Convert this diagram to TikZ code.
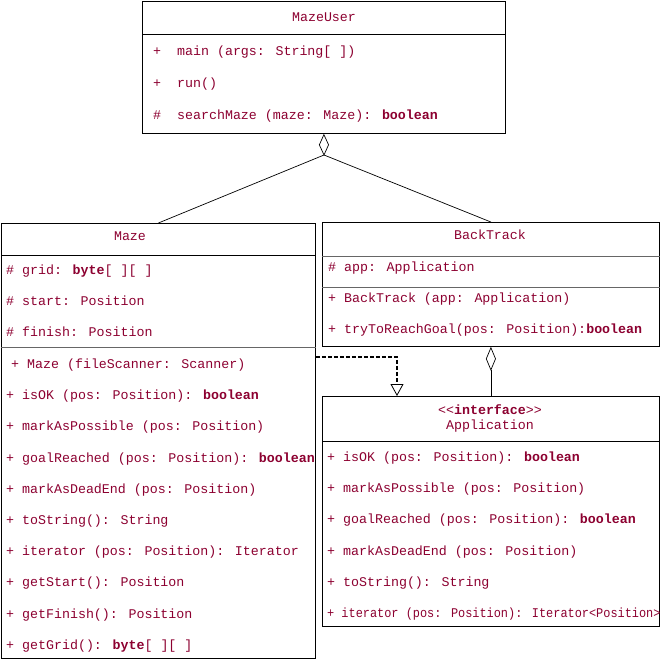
\documentclass[tikz,border=0pt]{standalone}
\usepackage{fontspec}
\newfontfamily\umlfont{Liberation Mono}
\usetikzlibrary{positioning, arrows.meta}
\definecolor{umlred}{RGB}{140,0,48}

\begin{document}
\begin{tikzpicture}[x=1pt, y=-1pt,
    umlbox/.style={draw, line width=0.8pt, anchor=north west, inner sep=0pt},
    row/.style={anchor=west, inner sep=0pt, text height=11pt, text depth=2pt,
                text=umlred, font=\umlfont\fontsize{13.3}{15}\selectfont},
    title/.style={row, anchor=center},
    sep/.style={line width=0.8pt},
    softsep/.style={line width=1pt, black!60}]
    \useasboundingbox (0,0) rectangle (660,659);

    % class boxes
    \node[umlbox, minimum width=363pt, minimum height=132pt] (mazeuser) at (142,1) {};
    \node[umlbox, minimum width=314pt, minimum height=435pt] (maze) at (1,223) {};
    \node[umlbox, minimum width=337pt, minimum height=124pt] (backtrack) at (322,222) {};
    \node[umlbox, minimum width=337pt, minimum height=230pt] (app) at (322,396) {};

    % compartments
    \draw[sep] (mazeuser.west |- 0,34) -- (mazeuser.east |- 0,34);
    \draw[sep] (maze.west |- 0,255) -- (maze.east |- 0,255);
    \draw[softsep] (maze.west |- 0,347) -- (maze.east |- 0,347);
    \draw[softsep] (backtrack.west |- 0,256) -- (backtrack.east |- 0,256);
    \draw[softsep] (backtrack.west |- 0,287) -- (backtrack.east |- 0,287);
    \draw[sep] (app.west |- 0,441) -- (app.east |- 0,441);

    % MazeUser
    \node[title] (mu-name) at (324,17) {MazeUser};
    \foreach \txt [count=\i] in {{+\ \ main (args: String[ ])}, {+\ \ run()},
        {\#\ \ searchMaze (maze: Maze): \textbf{boolean}}}
      \node[row] (mu-\i) at (153,{51+32*(\i-1)}) {\txt};

    % Maze
    \node[title] (mz-name) at (130,236) {Maze};
    \foreach \txt [count=\i] in {{\# grid: \textbf{byte}[ ][ ]}, {\# start: Position},
        {\# finish: Position}}
      \node[row] (mza-\i) at (6,{270+31*(\i-1)}) {\txt};
    \node[row] (mzm-0) at (11,364) {+ Maze (fileScanner: Scanner)};
    \foreach \txt [count=\i] in {{+ isOK (pos: Position): \textbf{boolean}},
        {+ markAsPossible (pos: Position)},
        {+ goalReached (pos: Position): \textbf{boolean}},
        {+ markAsDeadEnd (pos: Position)}, {+ toString(): String},
        {+ iterator (pos: Position): Iterator}, {+ getStart(): Position},
        {+ getFinish(): Position}, {+ getGrid(): \textbf{byte}[ ][ ]}}
      \node[row] (mzm-\i) at (6,{364+31.2*\i}) {\txt};

    % BackTrack
    \node[title] (bt-name) at (490,235) {BackTrack};
    \node[row] (bta-1) at (328,267) {\# app: Application};
    \node[row] (btm-1) at (328,298) {+ BackTrack (app: Application)};
    \node[row] (btm-2) at (328,329) {+ tryToReachGoal(pos: Position):\textbf{boolean}};

    % Application
    \node[title] (ap-stereo) at (490,410) {<{}<\textbf{interface}>{}>};
    \node[title] (ap-name) at (490,425) {Application};
    \foreach \txt [count=\i] in {{+ isOK (pos: Position): \textbf{boolean}},
        {+ markAsPossible (pos: Position)},
        {+ goalReached (pos: Position): \textbf{boolean}},
        {+ markAsDeadEnd (pos: Position)}, {+ toString(): String}}
      \node[row] (apm-\i) at (327,{457+31.2*(\i-1)}) {\txt};
    \node[row] (apm-6) at (327,613)
      {\scalebox{0.895}[1]{+ iterator (pos: Position): Iterator<Position>}};

    % relations
    \coordinate (hub) at (324,155);
    \draw[line width=0.7pt, -{Diamond[open, length=22pt, width=10pt]}] (hub) -- (mazeuser.south);
    \draw[line width=0.7pt] (hub) -- (maze.north);
    \draw[line width=0.7pt] (hub) -- (backtrack.north);
    \draw[line width=0.7pt, {Diamond[open, length=24pt, width=10pt]}-] (backtrack.south) -- (app.north);
    \draw[line width=1.2pt, dash pattern=on 4pt off 2pt,
          -{Triangle[open, length=12pt, width=13pt, line width=0.8pt]}]
      (maze.north east |- 0,357) -| (app.north -| 397,0);
\end{tikzpicture}
\end{document}
